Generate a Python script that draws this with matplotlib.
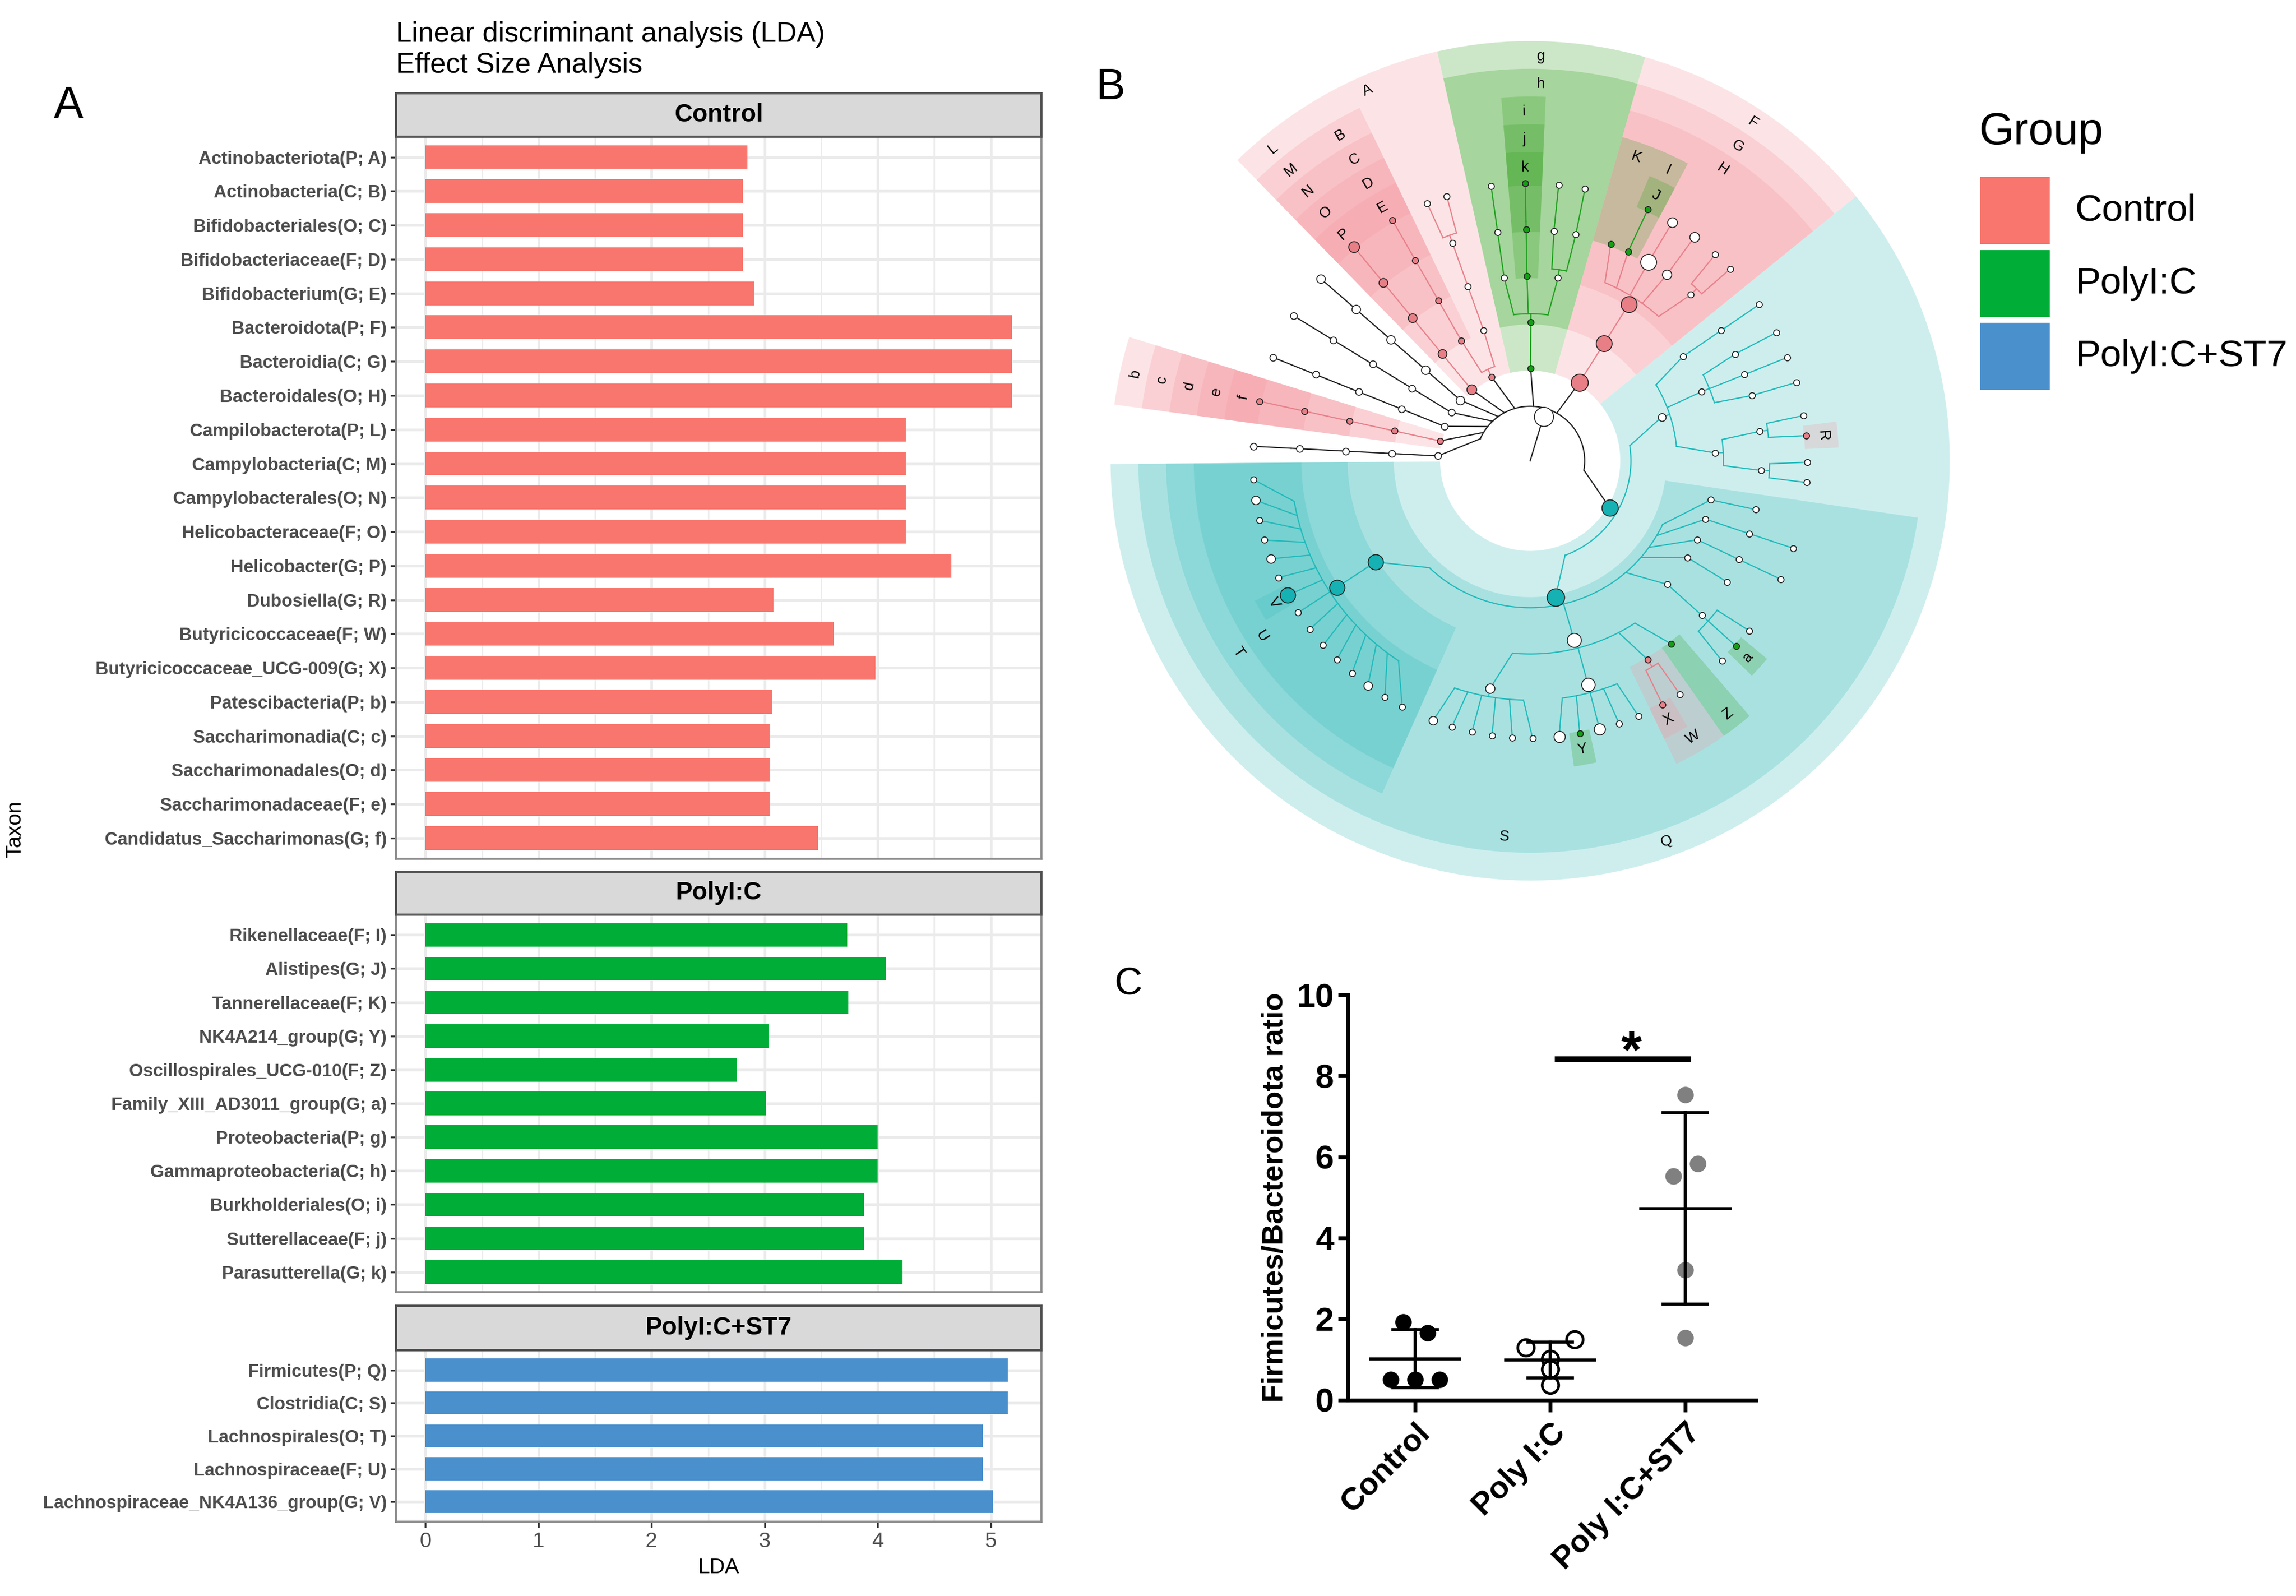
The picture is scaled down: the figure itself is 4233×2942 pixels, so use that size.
import numpy as np
import matplotlib
matplotlib.use("Agg")
import matplotlib.pyplot as plt
from matplotlib.patches import Wedge, Rectangle

plt.rcParams['font.family'] = ['Liberation Sans', 'DejaVu Sans']

# ---------------- panel A: LDA scores ----------------
ctrl_taxa = ["Actinobacteriota(P; A)", "Actinobacteria(C; B)", "Bifidobacteriales(O; C)",
             "Bifidobacteriaceae(F; D)", "Bifidobacterium(G; E)", "Bacteroidota(P; F)",
             "Bacteroidia(C; G)", "Bacteroidales(O; H)", "Campilobacterota(P; L)",
             "Campylobacteria(C; M)", "Campylobacterales(O; N)", "Helicobacteraceae(F; O)",
             "Helicobacter(G; P)", "Dubosiella(G; R)", "Butyricicoccaceae(F; W)",
             "Butyricicoccaceae_UCG-009(G; X)", "Patescibacteria(P; b)", "Saccharimonadia(C; c)",
             "Saccharimonadales(O; d)", "Saccharimonadaceae(F; e)", "Candidatus_Saccharimonas(G; f)"]
ctrl_lda = [2.85, 2.81, 2.81, 2.81, 2.91, 5.19, 5.19, 5.19, 4.25, 4.25, 4.25, 4.25,
            4.65, 3.08, 3.61, 3.98, 3.07, 3.05, 3.05, 3.05, 3.47]
poly_taxa = ["Rikenellaceae(F; I)", "Alistipes(G; J)", "Tannerellaceae(F; K)", "NK4A214_group(G; Y)",
             "Oscillospirales_UCG-010(F; Z)", "Family_XIII_AD3011_group(G; a)", "Proteobacteria(P; g)",
             "Gammaproteobacteria(C; h)", "Burkholderiales(O; i)", "Sutterellaceae(F; j)",
             "Parasutterella(G; k)"]
poly_lda = [3.73, 4.07, 3.74, 3.04, 2.75, 3.01, 4.00, 4.00, 3.88, 3.88, 4.22]
st7_taxa = ["Firmicutes(P; Q)", "Clostridia(C; S)", "Lachnospirales(O; T)", "Lachnospiraceae(F; U)",
            "Lachnospiraceae_NK4A136_group(G; V)"]
st7_lda = [5.15, 5.15, 4.93, 4.93, 5.02]

group_names = ["Control", "PolyI:C", "PolyI:C+ST7"]
group_cols = ["#F8766D", "#00AD37", "#4A90CD"]

# ---------------- panel B: cladogram ----------------
# tips: phylum/class/order/family/genus path and the angle (deg) of the tip
clado_tips = [
    ("p1/c/o/f/g", 177.0),
    ("Patescibacteria/Saccharimonadia/Saccharimonadales/Saccharimonadaceae/Candidatus_Saccharimonas", 167.6),
    ("p2/c/o/f/g", 158.1),
    ("p3/c/o/f/g", 148.5),
    ("p4/c/o/f/g", 139.0),
    ("Campilobacterota/Campylobacteria/Campylobacterales/Helicobacteraceae/Helicobacter", 129.5),
    ("Actinobacteriota/Actinobacteria/Bifidobacteriales/Bifidobacteriaceae/Bifidobacterium", 119.8),
    ("Actinobacteriota/c2/o/f/g1", 111.8),
    ("Actinobacteriota/c2/o/f/g2", 107.5),
    ("Proteobacteria/Gammaproteobacteria/o1/f/g", 98.1),
    ("Proteobacteria/Gammaproteobacteria/Burkholderiales/Sutterellaceae/Parasutterella", 91.0),
    ("Proteobacteria/Gammaproteobacteria/o3/f1/g", 84.1),
    ("Proteobacteria/Gammaproteobacteria/o3/f2/g", 78.6),
    ("Bacteroidota/Bacteroidia/Bacteroidales/Tannerellaceae", 69.6),
    ("Bacteroidota/Bacteroidia/Bacteroidales/Rikenellaceae/Alistipes", 64.9),
    ("Bacteroidota/Bacteroidia/Bacteroidales/f3/g", 59.2),
    ("Bacteroidota/Bacteroidia/Bacteroidales/f4/g", 53.7),
    ("Bacteroidota/Bacteroidia/Bacteroidales/f5/g1", 48.1),
    ("Bacteroidota/Bacteroidia/Bacteroidales/f5/g2", 43.8),
    ("Firmicutes/c1/o1/f/g", 34.3),
    ("Firmicutes/c1/o2/f1/g", 27.5),
    ("Firmicutes/c1/o2/f2/g", 21.9),
    ("Firmicutes/c1/o2/f3/g", 16.4),
    ("Firmicutes/c1/o3/f1/g", 9.4),
    ("Firmicutes/c1/o3/f1/Dubosiella", 5.2),
    ("Firmicutes/c1/o3/f2/g1", -0.3),
    ("Firmicutes/c1/o3/f2/g2", -4.5),
    ("Firmicutes/Clostridia/o1/f", -12.2),
    ("Firmicutes/Clostridia/o2/f/g", -18.4),
    ("Firmicutes/Clostridia/o3/f/g", -25.3),
    ("Firmicutes/Clostridia/o4/f", -31.6),
    ("Firmicutes/Clostridia/o5/f/g1", -37.8),
    ("Firmicutes/Clostridia/o5/f/Family_XIII_AD3011_group", -42.0),
    ("Firmicutes/Clostridia/o5/f/g3", -46.2),
    ("Firmicutes/Clostridia/Oscillospirales/Oscillospirales_UCG-010", -52.4),
    ("Firmicutes/Clostridia/Oscillospirales/Butyricicoccaceae/g", -57.3),
    ("Firmicutes/Clostridia/Oscillospirales/Butyricicoccaceae/Butyricicoccaceae_UCG-009", -61.5),
    ("Firmicutes/Clostridia/Oscillospirales/f3/g1", -67.0),
    ("Firmicutes/Clostridia/Oscillospirales/f3/g2", -71.3),
    ("Firmicutes/Clostridia/Oscillospirales/f3/g3", -75.5),
    ("Firmicutes/Clostridia/Oscillospirales/f3/NK4A214_group", -79.7),
    ("Firmicutes/Clostridia/Oscillospirales/f3/g5", -84.0),
    ("Firmicutes/Clostridia/Oscillospirales/f4/g1", -89.5),
    ("Firmicutes/Clostridia/Oscillospirales/f4/g2", -93.7),
    ("Firmicutes/Clostridia/Oscillospirales/f4/g3", -97.9),
    ("Firmicutes/Clostridia/Oscillospirales/f4/g4", -102.1),
    ("Firmicutes/Clostridia/Oscillospirales/f4/g5", -106.4),
    ("Firmicutes/Clostridia/Oscillospirales/f4/g6", -110.5),
    ("Firmicutes/Clostridia/Lachnospirales/Lachnospiraceae/g1", -117.5),
    ("Firmicutes/Clostridia/Lachnospirales/Lachnospiraceae/g2", -121.6),
    ("Firmicutes/Clostridia/Lachnospirales/Lachnospiraceae/g3", -125.8),
    ("Firmicutes/Clostridia/Lachnospirales/Lachnospiraceae/g4", -130.0),
    ("Firmicutes/Clostridia/Lachnospirales/Lachnospiraceae/g5", -134.2),
    ("Firmicutes/Clostridia/Lachnospirales/Lachnospiraceae/g6", -138.3),
    ("Firmicutes/Clostridia/Lachnospirales/Lachnospiraceae/g7", -142.6),
    ("Firmicutes/Clostridia/Lachnospirales/Lachnospiraceae/g8", -146.8),
    ("Firmicutes/Clostridia/Lachnospirales/Lachnospiraceae/Lachnospiraceae_NK4A136_group", -151.0),
    ("Firmicutes/Clostridia/Lachnospirales/Lachnospiraceae/g10", -155.1),
    ("Firmicutes/Clostridia/Lachnospirales/Lachnospiraceae/g11", -159.3),
    ("Firmicutes/Clostridia/Lachnospirales/Lachnospiraceae/g12", -163.4),
    ("Firmicutes/Clostridia/Lachnospirales/Lachnospiraceae/g13", -167.6),
    ("Firmicutes/Clostridia/Lachnospirales/Lachnospiraceae/g14", -171.8),
    ("Firmicutes/Clostridia/Lachnospirales/Lachnospiraceae/g15", -176.1),
]

# enriched clades: path -> (letter, group index)
act = "Actinobacteriota/Actinobacteria/Bifidobacteriales/Bifidobacteriaceae/Bifidobacterium".split("/")
cam = "Campilobacterota/Campylobacteria/Campylobacterales/Helicobacteraceae/Helicobacter".split("/")
pat = "Patescibacteria/Saccharimonadia/Saccharimonadales/Saccharimonadaceae/Candidatus_Saccharimonas".split("/")
pro = "Proteobacteria/Gammaproteobacteria/Burkholderiales/Sutterellaceae/Parasutterella".split("/")
lac = "Firmicutes/Clostridia/Lachnospirales/Lachnospiraceae/Lachnospiraceae_NK4A136_group".split("/")
clado_marks = {}
for parts, letters, grp in [(act, "ABCDE", 0), (cam, "LMNOP", 0), (pat, "bcdef", 0),
                            (pro, "ghijk", 1), (lac, "QSTUV", 2)]:
    for k, let in enumerate(letters):
        clado_marks["/".join(parts[:k + 1])] = (let, grp)
clado_marks.update({
    "Bacteroidota": ("F", 0), "Bacteroidota/Bacteroidia": ("G", 0),
    "Bacteroidota/Bacteroidia/Bacteroidales": ("H", 0),
    "Bacteroidota/Bacteroidia/Bacteroidales/Rikenellaceae": ("I", 1),
    "Bacteroidota/Bacteroidia/Bacteroidales/Rikenellaceae/Alistipes": ("J", 1),
    "Bacteroidota/Bacteroidia/Bacteroidales/Tannerellaceae": ("K", 1),
    "Firmicutes/c1/o3/f1/Dubosiella": ("R", 0),
    "Firmicutes/Clostridia/Oscillospirales/Butyricicoccaceae": ("W", 0),
    "Firmicutes/Clostridia/Oscillospirales/Butyricicoccaceae/Butyricicoccaceae_UCG-009": ("X", 0),
    "Firmicutes/Clostridia/Oscillospirales/f3/NK4A214_group": ("Y", 1),
    "Firmicutes/Clostridia/Oscillospirales/Oscillospirales_UCG-010": ("Z", 1),
    "Firmicutes/Clostridia/o5/f/Family_XIII_AD3011_group": ("a", 1),
})

# node diameters (pt) where larger than the default
clado_size = {
    "": 9.4, "Firmicutes": 8.0, "Firmicutes/Clostridia": 8.6,
    "Firmicutes/Clostridia/Lachnospirales": 7.5,
    "Firmicutes/Clostridia/Lachnospirales/Lachnospiraceae": 7.5,
    "Firmicutes/Clostridia/Lachnospirales/Lachnospiraceae/Lachnospiraceae_NK4A136_group": 7.5,
    "Firmicutes/Clostridia/Lachnospirales/Lachnospiraceae/g3": 4.2,
    "Firmicutes/Clostridia/Lachnospirales/Lachnospiraceae/g11": 4.2,
    "Firmicutes/Clostridia/Lachnospirales/Lachnospiraceae/g14": 4.2,
    "Firmicutes/Clostridia/Oscillospirales": 6.9,
    "Firmicutes/Clostridia/Oscillospirales/f3": 6.6,
    "Firmicutes/Clostridia/Oscillospirales/f3/g3": 5.5,
    "Firmicutes/Clostridia/Oscillospirales/f3/g5": 5.5,
    "Firmicutes/Clostridia/Oscillospirales/f4": 4.6,
    "Firmicutes/Clostridia/Oscillospirales/f4/g6": 4.2,
    "Firmicutes/c1": 3.8,
    "Bacteroidota": 8.4, "Bacteroidota/Bacteroidia": 7.8,
    "Bacteroidota/Bacteroidia/Bacteroidales": 7.8,
    "Bacteroidota/Bacteroidia/Bacteroidales/f3": 7.8,
    "Bacteroidota/Bacteroidia/Bacteroidales/f3/g": 4.8,
    "Bacteroidota/Bacteroidia/Bacteroidales/f4": 4.6,
    "Bacteroidota/Bacteroidia/Bacteroidales/f4/g": 4.8,
    "Campilobacterota": 4.8, "Campilobacterota/Campylobacteria": 4.3,
    "Campilobacterota/Campylobacteria/Campylobacterales": 4.3,
    "Campilobacterota/Campylobacteria/Campylobacterales/Helicobacteraceae": 4.3,
    "Campilobacterota/Campylobacteria/Campylobacterales/Helicobacteraceae/Helicobacter": 5.3,
    "p4": 4.2, "p4/c": 4.2, "p4/c/o": 4.2, "p4/c/o/f": 4.2, "p4/c/o/f/g": 4.2,
}
clado_fill = ["#E87F87", "#14A014", "#16B1B3"]
clado_shade = ["#F5979F", "#37A323", "#3CBEBE"]
clado_line = ["#E8808A", "#22A022", "#22BABA"]

# ---------------- panel C: Firmicutes/Bacteroidota ratio ----------------
fb_labels = ["Control", "Poly I:C", "Poly I:C+ST7"]
fb_ctrl = [1.93, 1.65, 0.50, 0.50, 0.50]
fb_poly = [1.30, 1.01, 1.49, 0.76, 0.37]
fb_st7 = [7.54, 5.52, 5.84, 3.21, 1.53]

# ---------------- layout helpers ----------------
fig = plt.figure(figsize=(4233 / 270, 2942 / 270), dpi=270)
W, H = 1565.0, 1087.6


def box(x0, y0, x1, y1):
    return [x0 / W, 1 - y1 / H, (x1 - x0) / W, (y1 - y0) / H]


def fx(x):
    return x / W


def fy(y):
    return 1 - y / H


# ================= panel A =================
facets = [(ctrl_taxa, ctrl_lda, 0, 63.5, 93.1, 585.1),
          (poly_taxa, poly_lda, 1, 593.9, 623.3, 880.6),
          (st7_taxa, st7_lda, 2, 889.9, 920.2, 1036.8)]
for taxa, vals, gi, s_top, p_top, p_bot in facets:
    ax = fig.add_axes(box(270, p_top, 710, p_bot))
    n = len(taxa)
    y = np.arange(n)
    ax.barh(y, vals, height=0.7, color=group_cols[gi], zorder=2)
    ax.set_ylim(n - 0.4, -0.6)
    ax.set_xlim(-0.26, 5.45)
    ax.set_yticks(y)
    ax.set_yticklabels(taxa, fontsize=8.8, fontweight='bold', color='#4D4D4D')
    ax.set_xticks(range(6))
    ax.set_xticks(np.arange(0.5, 5.5, 1), minor=True)
    ax.grid(which='major', color='#EBEBEB', lw=1.3, zorder=0)
    ax.grid(which='minor', axis='x', color='#EBEBEB', lw=0.7, zorder=0)
    ax.set_axisbelow(True)
    for s in ax.spines.values():
        s.set_color('#8C8C8C')
        s.set_linewidth(1.0)
    ax.tick_params(axis='y', length=2.6, width=0.9, color='#333333', pad=2)
    ax.tick_params(axis='x', which='minor', length=0)
    if gi == 2:
        ax.tick_params(axis='x', which='major', length=2.8, width=0.9, color='#333333',
                       labelsize=10.5, labelcolor='#4D4D4D', pad=2.5)
        ax.set_xlabel("LDA", fontsize=10.5, labelpad=3)
    else:
        ax.tick_params(axis='x', which='major', length=0, labelbottom=False)
    sax = fig.add_axes(box(270, s_top, 710, p_top))
    sax.set_facecolor('#D9D9D9')
    sax.set_xticks([])
    sax.set_yticks([])
    for s in sax.spines.values():
        s.set_color('#555555')
        s.set_linewidth(1.1)
    sax.text(0.5, 0.5, group_names[gi], ha='center', va='center', fontsize=12.3,
             fontweight='bold', transform=sax.transAxes)

fig.text(fx(270), fy(28.3), "Linear discriminant analysis (LDA)", fontsize=13.9, va='baseline')
fig.text(fx(270), fy(49.5), "Effect Size Analysis", fontsize=13.9, va='baseline')
fig.text(fx(10.4), fy(565), "Taxon", fontsize=10.5, rotation=90, ha='center', va='center')
fig.text(fx(46.6), fy(72.6), "A", fontsize=22, ha='center', va='center')

# ================= panel B =================
axb = fig.add_axes(box(1043 - 9.5 * 31.5, 314 - 9.5 * 31.5, 1043 + 9.5 * 31.5, 314 + 9.5 * 31.5))
axb.set_xlim(-9.5, 9.5)
axb.set_ylim(-9.5, 9.5)
axb.axis('off')

tree = {"": {"level": 0, "kids": []}}
for path, ang in clado_tips:
    parts = path.split("/")
    for k in range(1, len(parts) + 1):
        key = "/".join(parts[:k])
        if key not in tree:
            tree[key] = {"level": k, "kids": []}
            tree["/".join(parts[:k - 1])]["kids"].append(key)
    tree[path]["ang"] = ang


def set_angle(key):
    node = tree[key]
    if node["kids"]:
        a = [set_angle(k) for k in node["kids"]]
        node["ang"] = (min(a) + max(a)) / 2
    return node["ang"]


set_angle("")


def tips_under(key):
    kids = tree[key]["kids"]
    if not kids:
        return [tree[key]["ang"]]
    out = []
    for k in kids:
        out += tips_under(k)
    return out


def parent(key):
    return key.rsplit("/", 1)[0] if "/" in key else ""


def line_col(key):
    while True:
        if key in clado_marks:
            return clado_line[clado_marks[key][1]]
        if key == "":
            return "#222222"
        key = parent(key)


def pol(r, a):
    t = np.radians(a)
    return r * np.cos(t), r * np.sin(t)


tip_sorted = np.sort([a for _, a in clado_tips])
ext = np.concatenate([[tip_sorted[-1] - 360], tip_sorted, [tip_sorted[0] + 360]])
tip_lo = {a: (ext[i] + ext[i + 1]) / 2 for i, a in enumerate(tip_sorted)}
tip_hi = {a: (ext[i + 1] + ext[i + 2]) / 2 for i, a in enumerate(tip_sorted)}

# shaded sectors of enriched clades
for key in sorted(clado_marks, key=lambda k: tree[k]["level"]):
    let, gi = clado_marks[key]
    lev = tree[key]["level"]
    tl = tips_under(key)
    lo, hi = tip_lo[min(tl)], tip_hi[max(tl)]
    r_out = 9.08 - 0.6 * (lev - 1)
    r_in = lev + 1 - 0.05
    axb.add_patch(Wedge((0, 0), r_out, lo, hi, width=r_out - r_in, facecolor=clado_shade[gi],
                        alpha=0.25, lw=0, zorder=1))
    mid = (lo + hi) / 2
    am = ((mid + 180) % 360) - 180
    rot = am - 90 if am >= 0 else am + 90
    tx, ty = pol(r_out - 0.33, mid)
    axb.text(tx, ty, let, fontsize=7.3, rotation=rot, ha='center', va='center',
             rotation_mode='anchor', zorder=5)

# branches
for key, node in tree.items():
    kids = node["kids"]
    if not kids:
        continue
    rp, ap = node["level"] + 1, node["ang"]
    ra = rp + 0.18
    col = line_col(key)
    ends = [ap + 0.8 * (tree[k]["ang"] - ap) for k in kids]
    arc = np.linspace(min(ends + [ap]), max(ends + [ap]), 80)
    axb.plot(*pol(ra, arc), color=col, lw=0.6, zorder=2)
    x0, y0 = pol(rp, ap)
    x1, y1 = pol(ra, ap)
    axb.plot([x0, x1], [y0, y1], color=col, lw=0.6, zorder=2)
    for k, e in zip(kids, ends):
        xa, ya = pol(ra, e)
        xc, yc = pol(tree[k]["level"] + 1, tree[k]["ang"])
        axb.plot([xa, xc], [ya, yc], color=col, lw=0.6, zorder=2)
xr, yr = pol(1, tree[""]["ang"])
axb.plot([0, xr], [0, yr], color="#222222", lw=0.6, zorder=2)

# nodes
for key, node in tree.items():
    x, y = pol(node["level"] + 1, node["ang"])
    fc = clado_fill[clado_marks[key][1]] if key in clado_marks else "white"
    d = clado_size.get(key, 3.3 if key.startswith(("p1", "p2", "p3")) else 3.0)
    axb.scatter([x], [y], s=d ** 2, facecolor=fc, edgecolor="#222222", linewidths=0.45, zorder=3)

fig.text(fx(757), fy(60), "B", fontsize=21.5, ha='center', va='center')

# legend of panel B
fig.text(fx(1349), fy(90.3), "Group", fontsize=22, ha='left', va='center')
for gi, (y0, y1) in enumerate([(120.6, 166.5), (170.4, 216.0), (219.9, 265.8)]):
    fig.add_artist(Rectangle((fx(1350), fy(y1)), (1397 - 1350) / W, (y1 - y0) / H,
                             transform=fig.transFigure, facecolor=group_cols[gi], edgecolor='none'))
    fig.text(fx(1414.5), fy((y0 + y1) / 2), group_names[gi], fontsize=18.5, ha='left', va='center')

# ================= panel C =================
axc = fig.add_axes(box(918.6, 678, 1196.7, 954))
axc.set_xlim(-0.5, 2.52)
axc.set_ylim(0, 10)


def spread(vals, row=0.5, step=0.18):
    # points falling in the same band of values are laid side by side, centred
    rows = np.floor(np.asarray(vals) / row)
    offs = np.zeros(len(vals))
    for r in np.unique(rows):
        idx = np.where(rows == r)[0]
        offs[idx] = (np.arange(len(idx)) - (len(idx) - 1) / 2) * step
    return offs


styles = [dict(facecolor='black', edgecolor='black', linewidths=0),
          dict(facecolor='white', edgecolor='black', linewidths=1.3),
          dict(facecolor='#808080', edgecolor='#808080', linewidths=0)]
for i, vals in enumerate([fb_ctrl, fb_poly, fb_st7]):
    v = np.array(vals)
    axc.scatter(i + spread(v), v, s=66, zorder=2, **styles[i])
    m, sd = v.mean(), v.std(ddof=1)
    axc.plot([i - 0.33, i + 0.33], [m, m], color='black', lw=1.5, zorder=3)
    axc.plot([i, i], [m - sd, m + sd], color='black', lw=1.5, zorder=3)
    for yy in (m - sd, m + sd):
        axc.plot([i - 0.165, i + 0.165], [yy, yy], color='black', lw=1.5, zorder=3)

axc.plot([1.03, 2.04], [8.42, 8.42], color='black', lw=2.8, solid_capstyle='butt')
axc.text(1.6, 8.2, "*", fontsize=26, fontweight='bold', ha='center', va='baseline')

for s in ['top', 'right']:
    axc.spines[s].set_visible(False)
for s in ['left', 'bottom']:
    axc.spines[s].set_linewidth(1.9)
axc.set_yticks(range(0, 11, 2))
axc.set_xticks(range(3))
axc.set_xticklabels(fb_labels, rotation=45, ha='right', va='top', rotation_mode='anchor',
                    fontsize=15.5, fontweight='bold')
for lab in axc.get_yticklabels():
    lab.set_fontweight('bold')
axc.tick_params(axis='y', length=4.8, width=1.9, labelsize=16.5, pad=2)
axc.tick_params(axis='x', length=5.9, width=1.9, pad=3)
axc.text(-0.178, 0.5, "Firmicutes/Bacteroidota ratio", transform=axc.transAxes, rotation=90,
         ha='center', va='center', fontsize=14.5, fontweight='bold')
fig.text(fx(769), fy(671), "C", fontsize=19, ha='center', va='center')

fig.savefig("out.png", dpi=270, facecolor='white')
